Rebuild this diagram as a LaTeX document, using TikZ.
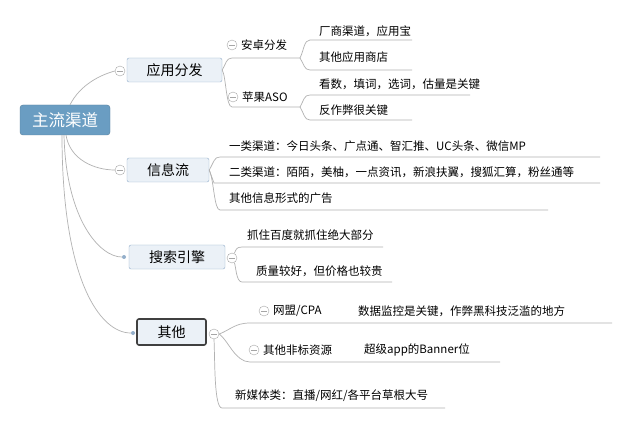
\documentclass[tikz,border=0pt]{standalone}
\usepackage{fontspec}
\setmainfont{Noto Sans CJK SC}
\definecolor{rootc}{HTML}{6A9DC2}
\definecolor{mainf}{HTML}{EBF1F7}
\definecolor{maind}{HTML}{93AFCB}
\begin{document}
\begin{tikzpicture}[x=1pt,y=-1pt,
  ln/.style={draw=gray!60,line width=0.7pt},
  main/.style={draw=maind,fill=mainf,rounded corners=2pt,minimum height=24pt,font=\fontsize{14}{16}\selectfont,inner sep=2pt},
  leaf/.style={anchor=west,font=\fontsize{11.5}{13}\selectfont,inner sep=1pt},
  mn/.style={circle,draw=gray!70,fill=white,minimum size=10pt,inner sep=0pt,path picture={\draw[gray!70] ([xshift=2pt]path picture bounding box.west) -- ([xshift=-2pt]path picture bounding box.east);}},
  dotn/.style={circle,fill=maind,minimum size=4pt,inner sep=0pt}]
\useasboundingbox (0,0) rectangle (628,427);
\fill[white] (0,0) rectangle (628,427);
% root
\node[draw=rootc!80!black,fill=rootc,rounded corners=3pt,minimum width=90pt,minimum height=30pt,text=white,font=\fontsize{16.5}{18}\selectfont] (root) at (65,120) {主流渠道};
% main nodes
\node[main,minimum width=95pt] (app) at (174.5,70) {应用分发};
\node[main,minimum width=82pt] (info) at (168,170) {信息流};
\node[main,minimum width=96pt] (search) at (177,257) {搜索引擎};
\node[main,draw=black!75,line width=1.6pt,minimum width=69pt,minimum height=26pt] (other) at (171.5,332) {其他};
\node[mn] (mapp) at (120,71) {};
\node[mn] (minfo) at (120,170) {};
\node[dotn] (dsearch) at (124,257) {};
\node[dotn] (dother) at (133,333) {};
\draw[ln] (root.north) ++(5,0) coordinate (r1) .. controls (80,85) and (100,75) .. (mapp.west);
\draw[ln] (66,135) .. controls (70,160) and (95,170) .. (minfo.west);
\draw[ln] (64,135) .. controls (66,220) and (100,257) .. (dsearch);
\draw[ln] (62,135) .. controls (62,280) and (100,333) .. (dother);
% app children
\node[mn] (ma) at (232,45) {};
\node[leaf] (az) at (240,45) {安卓分发};
\node[mn] (mi) at (233,97) {};
\node[leaf] (ios) at (241,97) {苹果ASO};
\draw[ln] (app.east) .. controls (226,64) and (226,58) .. (232,58) -- (300,58);
\draw[ln] (app.east) .. controls (226,76) and (226,107) .. (232,107) -- (300,107);
\node[leaf] (l1) at (318,31) {厂商渠道，应用宝};
\node[leaf] (l2) at (318,57) {其他应用商店};
\node[leaf] (l3) at (318,84) {看数，填词，选词，估量是关键};
\node[leaf] (l4) at (318,110) {反作弊很关键};
\draw[ln] (300,58) .. controls (304,50) and (304,40) .. (310,40) -- (412,40);
\draw[ln] (300,58) .. controls (304,64) and (304,70) .. (310,70) -- (412,70);
\draw[ln] (300,107) .. controls (304,100) and (304,95) .. (310,95) -- (470,95);
\draw[ln] (300,107) .. controls (304,113) and (304,120) .. (310,120) -- (412,120);
% info children
\node[leaf] (i1) at (228,146) {一类渠道：今日头条、广点通、智汇推、UC头条、微信MP};
\node[leaf] (i2) at (228,172) {二类渠道：陌陌，美柚，一点资讯，新浪扶翼，搜狐汇算，粉丝通等};
\node[leaf] (i3) at (228,198) {其他信息形式的广告};
\draw[ln] (info.east) .. controls (214,162) and (214,157) .. (220,157) -- (600,157);
\draw[ln] (info.east) -- (214,183) -- (220,183) -- (600,183);
\draw[ln] (info.east) .. controls (214,180) and (214,210) .. (220,210) -- (548,210);
% search
\node[mn] (ms) at (232,258) {};
\node[leaf] (s1) at (246,235) {抓住百度就抓住绝大部分};
\node[leaf] (s2) at (255,271) {质量较好，但价格也较贵};
\draw[ln] (ms) .. controls (236,250) and (236,247) .. (242,247) -- (383,247);
\draw[ln] (ms) .. controls (236,266) and (236,282) .. (242,282) -- (392,282);
% other
\node[mn] (mo) at (214,334) {};
\node[mn] (mw) at (264,311) {};
\node[leaf] (w1) at (272,311) {网盟/CPA};
\node[leaf] (w2) at (357,311) {数据监控是关键，作弊黑科技泛滥的地方};
\node[mn] (mf) at (254,350) {};
\node[leaf] (f1) at (262,350) {其他非标资源};
\node[leaf] (f2) at (363,350) {超级app的Banner位};
\node[leaf] (n1) at (234,396) {新媒体类：直播/网红/各平台草根大号};
\draw[ln] (mo.east) .. controls (230,330) and (235,323) .. (250,323) -- (612,323);
\draw[ln] (mo.east) .. controls (228,340) and (235,362) .. (250,362) -- (500,362);
\draw[ln] (mo.south) .. controls (215,360) and (214,408) .. (222,408) -- (445,408);
\end{tikzpicture}
\end{document}
